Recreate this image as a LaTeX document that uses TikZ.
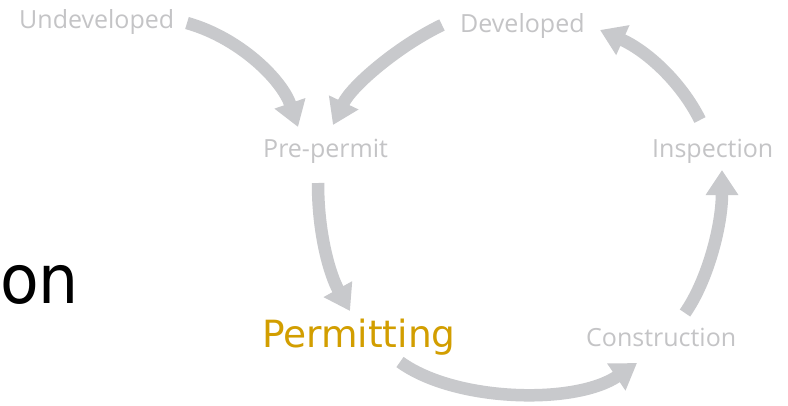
\documentclass[tikz,border=0pt]{standalone}
\usepackage{fontspec}
\setmainfont{Open Sans}
\newfontfamily\bigsans{DejaVu Sans}
\usetikzlibrary{arrows.meta}
\definecolor{arrowgray}{RGB}{200,201,204}
\definecolor{labelgray}{RGB}{196,196,198}
\definecolor{stagegold}{RGB}{210,158,0}
\begin{document}
\begin{tikzpicture}[x=1pt,y=-1pt,
  stage/.style={anchor=base west,inner sep=0pt,text=labelgray,font=\fontsize{25}{28}\selectfont},
  current/.style={anchor=base west,inner sep=0pt,text=stagegold,font=\bigsans\fontsize{37.5}{40}\selectfont},
  flow/.style={draw=arrowgray,line width=12.5pt,-{Triangle[width=31pt,length=25pt]}}]
\useasboundingbox (0,0) rectangle (788,405);
\fill[white] (0,0) rectangle (788,405);

% stage labels
\node[stage] (undev) at (19,28) {Undeveloped};
\node[stage] (dev) at (460,32) {Developed};
\node[stage] (pre) at (263,157) {Pre-permit};
\node[stage] (insp) at (652,157) {Inspection};
\node[stage] (cons) at (586,346) {Construction};
\node[current] (perm) at (262,347) {Permitting};
\node[anchor=base west,inner sep=0pt,xscale=0.93,font=\bigsans\fontsize{68}{70}\selectfont] (title) at (0,303) {on};

% arrow end points
\coordinate (u1) at (187,23);  \coordinate (p1) at (298,127);
\coordinate (d1) at (442,25);  \coordinate (p2) at (333,125);
\coordinate (p3) at (318,183); \coordinate (m1) at (350,311);
\coordinate (m2) at (400,362); \coordinate (c1) at (637,363);
\coordinate (c2) at (685,313); \coordinate (i1) at (722,170);
\coordinate (i2) at (700,120); \coordinate (d2) at (600,30);

% cycle arrows
\draw[flow] (u1) .. controls (240,38) and (282,80) .. (p1);
\draw[flow] (d1) .. controls (400,45) and (352,85) .. (p2);
\draw[flow] (p3) .. controls (318,235) and (330,275) .. (m1);
\draw[flow] (m2) .. controls (455,402) and (575,405) .. (c1);
\draw[flow] (c2) .. controls (708,280) and (722,225) .. (i1);
\draw[flow] (i2) .. controls (680,80) and (645,50) .. (d2);
\end{tikzpicture}
\end{document}
